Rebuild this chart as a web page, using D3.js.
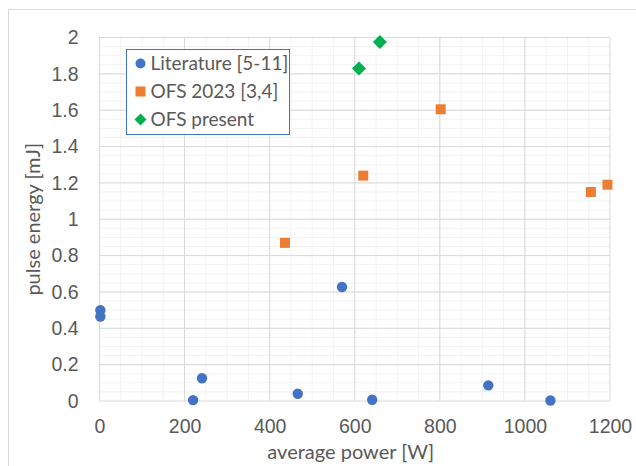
<!DOCTYPE html>
<html>
<head>
<meta charset="utf-8">
<script src="https://cdn.jsdelivr.net/npm/d3@7"></script>
<style>
  body { margin: 0; background: #fff; }
  svg { font-family: Lato, "Open Sans", sans-serif; }
</style>
</head>
<body>
<script>
const W = 636,
  H = 466;
const plot = { left: 99.5, right: 610, top: 37.5, bottom: 401 };

// Literature [5-11]
const litPower = [2, 2, 220, 241, 466, 570, 641, 914, 1060];
const litEnergy = [0.5, 0.465, 0.005, 0.125, 0.04, 0.627, 0.007, 0.086, 0.003];
// OFS 2023 [3,4]
const ofsPower = [436, 620, 802, 1155, 1194];
const ofsEnergy = [0.87, 1.24, 1.605, 1.15, 1.19];
// OFS present
const presPower = [610, 659];
const presEnergy = [1.83, 1.975];

const xTicks = [0, 200, 400, 600, 800, 1000, 1200];
const yTicks = [0, 0.2, 0.4, 0.6, 0.8, 1, 1.2, 1.4, 1.6, 1.8, 2];
const legendLabels = ['Literature [5-11]', 'OFS 2023 [3,4]', 'OFS present'];

const blue = '#4472C4',
  orange = '#ED7D31',
  green = '#00B050',
  textCol = '#595959';

const x = d3.scaleLinear().domain([0, 1200]).range([plot.left, plot.right]);
const y = d3.scaleLinear().domain([0, 2]).range([plot.bottom, plot.top]);

const svg = d3.select('body').append('svg').attr('width', W).attr('height', H);

// chart frame
svg
  .append('rect')
  .attr('x', 8.5)
  .attr('y', 9.5)
  .attr('width', W)
  .attr('height', H)
  .attr('fill', '#fff')
  .attr('stroke', '#d9d9d9');

// minor grid
const g = svg.append('g');
g.selectAll('.vminor')
  .data(d3.range(50, 1200, 50))
  .enter()
  .append('line')
  .attr('x1', d => x(d))
  .attr('x2', d => x(d))
  .attr('y1', plot.top)
  .attr('y2', plot.bottom)
  .attr('stroke', '#f2f2f2');
g.selectAll('.hminor')
  .data(d3.range(1, 40).map(i => i * 0.05))
  .enter()
  .append('line')
  .attr('y1', d => y(d))
  .attr('y2', d => y(d))
  .attr('x1', plot.left)
  .attr('x2', plot.right)
  .attr('stroke', '#f2f2f2');

// major grid
g.selectAll('.vmajor')
  .data(xTicks)
  .enter()
  .append('line')
  .attr('x1', d => x(d))
  .attr('x2', d => x(d))
  .attr('y1', plot.top)
  .attr('y2', plot.bottom)
  .attr('stroke', '#d9d9d9');
g.selectAll('.hmajor')
  .data(yTicks)
  .enter()
  .append('line')
  .attr('y1', d => y(d))
  .attr('y2', d => y(d))
  .attr('x1', plot.left)
  .attr('x2', plot.right)
  .attr('stroke', '#d9d9d9');

// axes (labels only, Excel style)
const xAxis = d3.axisBottom(x).tickValues(xTicks).tickSize(0).tickPadding(18).tickFormat(d3.format('d'));
svg
  .append('g')
  .attr('transform', `translate(0,${plot.bottom})`)
  .call(xAxis)
  .call(a => a.select('.domain').remove())
  .selectAll('text')
  .attr('fill', textCol)
  .style('font-size', '19.5px');

const yAxis = d3.axisLeft(y).tickValues(yTicks).tickSize(0).tickPadding(21).tickFormat(d => d3.format('~g')(d));
svg
  .append('g')
  .attr('transform', `translate(${plot.left},0)`)
  .call(yAxis)
  .call(a => a.select('.domain').remove())
  .selectAll('text')
  .attr('fill', textCol)
  .style('font-size', '19.5px');

// axis titles
svg
  .append('text')
  .attr('x', (plot.left + plot.right) / 2 - 4)
  .attr('y', 459)
  .attr('text-anchor', 'middle')
  .attr('fill', textCol)
  .style('font-size', '20px')
  .text('average power [W]');

svg
  .append('text')
  .attr('transform', `translate(40,${(plot.top + plot.bottom) / 2}) rotate(-90)`)
  .attr('text-anchor', 'middle')
  .attr('fill', textCol)
  .style('font-size', '20px')
  .text('pulse energy [mJ]');

// markers
const diamond = s => `M0,${-s}L${s},0L0,${s}L${-s},0Z`;

svg
  .append('g')
  .selectAll('circle')
  .data(litPower.map((p, i) => [p, litEnergy[i]]))
  .enter()
  .append('circle')
  .attr('cx', d => x(d[0]))
  .attr('cy', d => y(d[1]))
  .attr('r', 5.2)
  .attr('fill', blue);

svg
  .append('g')
  .selectAll('rect')
  .data(ofsPower.map((p, i) => [p, ofsEnergy[i]]))
  .enter()
  .append('rect')
  .attr('x', d => x(d[0]) - 5)
  .attr('y', d => y(d[1]) - 5)
  .attr('width', 10)
  .attr('height', 10)
  .attr('fill', orange);

svg
  .append('g')
  .selectAll('path')
  .data(presPower.map((p, i) => [p, presEnergy[i]]))
  .enter()
  .append('path')
  .attr('transform', d => `translate(${x(d[0])},${y(d[1])})`)
  .attr('d', diamond(7))
  .attr('fill', green);

// legend
const lg = svg.append('g').attr('transform', 'translate(126.5,49.5)');
lg.append('rect')
  .attr('width', 163)
  .attr('height', 85)
  .attr('fill', '#fff')
  .attr('stroke', blue)
  .attr('stroke-width', 1);

const rows = lg
  .selectAll('.row')
  .data(legendLabels)
  .enter()
  .append('g')
  .attr('transform', (d, i) => `translate(14,${14 + i * 28})`);

rows
  .append('text')
  .attr('x', 10)
  .attr('dy', '0.35em')
  .attr('fill', textCol)
  .style('font-size', '19px')
  .text(d => d);

rows.filter((d, i) => i === 0).append('circle').attr('r', 5).attr('fill', blue);
rows
  .filter((d, i) => i === 1)
  .append('rect')
  .attr('x', -5)
  .attr('y', -5)
  .attr('width', 10)
  .attr('height', 10)
  .attr('fill', orange);
rows.filter((d, i) => i === 2).append('path').attr('d', diamond(6)).attr('fill', green);
</script>
</body>
</html>
